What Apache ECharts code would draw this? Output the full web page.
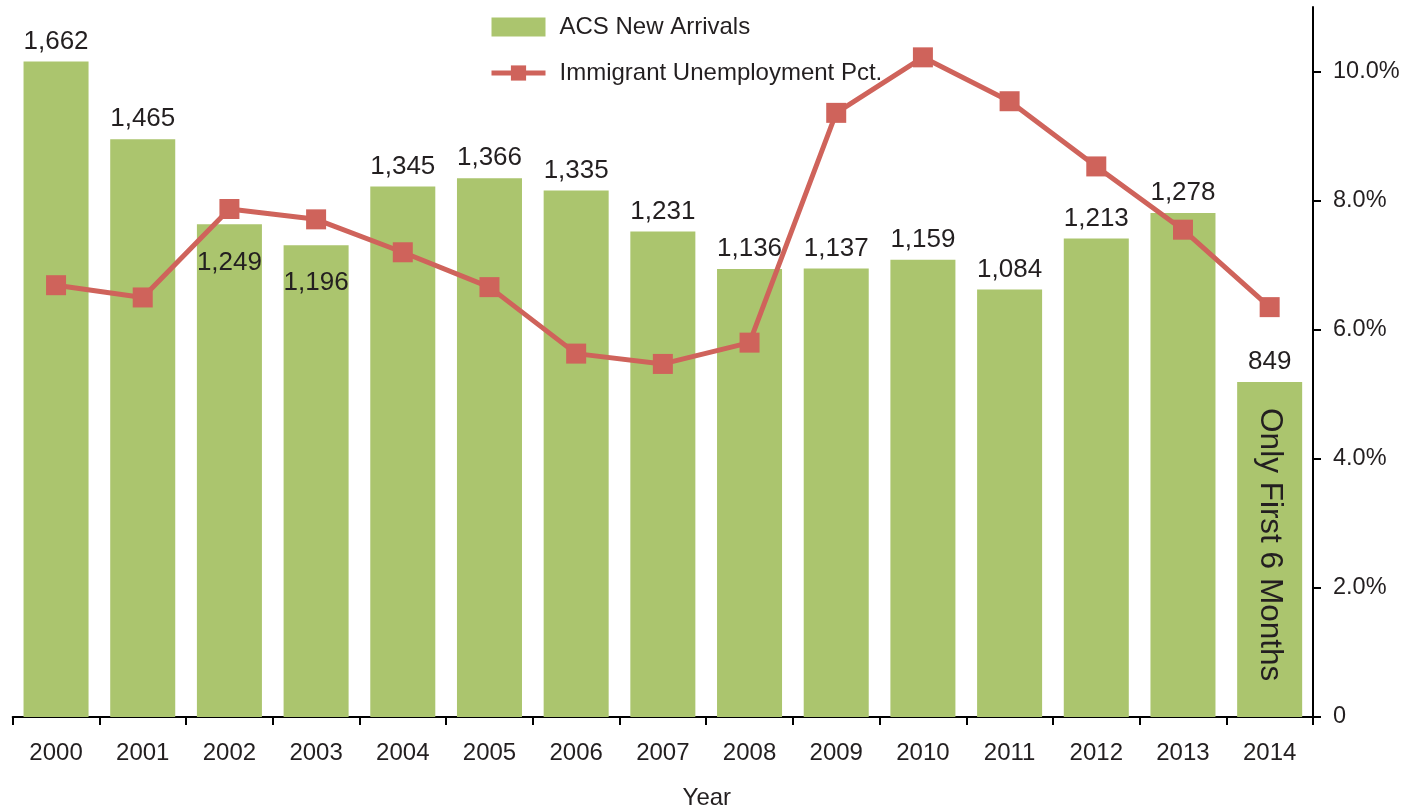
<!DOCTYPE html>
<html>
<head>
<meta charset="utf-8">
<script src="https://cdn.jsdelivr.net/npm/echarts@6/dist/echarts.min.js"></script>
<style>
  html, body { margin: 0; padding: 0; background: #fff; }
  #chart { width: 1416px; height: 807px; }
</style>
</head>
<body>
<div id="chart"></div>
<script>
const years = ['2000','2001','2002','2003','2004','2005','2006','2007','2008','2009','2010','2011','2012','2013','2014'];
const arrivals = [1662, 1465, 1249, 1196, 1345, 1366, 1335, 1231, 1136, 1137, 1159, 1084, 1213, 1278, 849];
const unemployment = [6.69, 6.50, 7.87, 7.71, 7.20, 6.66, 5.63, 5.47, 5.80, 9.36, 10.22, 9.54, 8.53, 7.55, 6.35];
const pctTicks = [0, 2, 4, 6, 8, 10];
const insideLabelYears = ['2002', '2003'];
const noteYear = '2014';
const noteText = 'Only First 6 Months';
const barName = 'ACS New Arrivals';
const lineName = 'Immigrant Unemployment Pct.';

const FONT = "'Liberation Sans', Arial, Helvetica, sans-serif";
const TXT = '#231F20';
const BAR = '#ABC56E';
const LINE = '#CF635B';

const chart = echarts.init(document.getElementById('chart'), null, { renderer: 'canvas' });

const barData = arrivals.map((v, i) => insideLabelYears.includes(years[i])
  ? { value: v, label: { position: 'insideTop', distance: 25 } }
  : v);
const noteData = arrivals.map((v, i) => years[i] === noteYear ? v : '-');

const option = {
  animation: false,
  textStyle: { fontFamily: FONT, color: TXT },
  grid: { left: 12.7, right: 103, top: 7, bottom: 90, containLabel: false, outerBoundsMode: 'none' },
  legend: {
    data: [
      { name: barName, icon: 'rect' },
      { name: lineName, lineStyle: { width: 5, color: LINE } }
    ],
    orient: 'vertical',
    left: 484,
    top: 10,
    itemWidth: 54,
    itemHeight: 19,
    itemGap: 22,
    textStyle: { fontSize: 24, color: TXT, fontFamily: FONT, padding: [0, 0, 0, 9] }
  },
  xAxis: {
    type: 'category',
    data: years,
    name: 'Year',
    nameLocation: 'middle',
    nameGap: 69,
    nameTextStyle: { fontSize: 24, color: TXT, fontFamily: FONT, padding: [0, 0, 0, 88] },
    axisLine: { lineStyle: { color: '#000', width: 2 } },
    axisTick: { show: true, length: 8, lineStyle: { color: '#000', width: 2 } },
    axisLabel: { fontSize: 24, color: TXT, margin: 24, fontFamily: FONT }
  },
  yAxis: [
    {
      type: 'value', min: 0, max: 1800, show: false, splitLine: { show: false }
    },
    {
      type: 'value', min: 0, max: 11, position: 'right',
      splitLine: { show: false },
      axisLine: { show: true, lineStyle: { color: '#000', width: 2 } },
      axisTick: { show: true, length: 8, customValues: pctTicks, lineStyle: { color: '#000', width: 2 } },
      axisLabel: {
        fontSize: 23.5, color: TXT, margin: 20, fontFamily: FONT,
        customValues: pctTicks,
        formatter: v => v === 0 ? '0' : v.toFixed(1) + '%'
      }
    }
  ],
  series: [
    {
      name: barName,
      type: 'bar',
      yAxisIndex: 0,
      data: barData,
      barCategoryGap: '25%',
      barGap: '-100%',
      itemStyle: { color: BAR },
      label: {
        show: true, position: 'top', distance: 7,
        fontSize: 26, color: TXT, fontFamily: FONT,
        formatter: p => Number(p.value).toLocaleString('en-US')
      },
      z: 2
    },
    {
      name: 'note',
      type: 'bar',
      yAxisIndex: 0,
      data: noteData,
      barCategoryGap: '25%',
      barGap: '-100%',
      itemStyle: { color: 'rgba(0,0,0,0)' },
      label: {
        show: true,
        position: ['50%', 26],
        rotate: -90,
        align: 'left',
        verticalAlign: 'middle',
        fontSize: 31.5, color: TXT, fontFamily: FONT,
        formatter: () => noteText
      },
      silent: true,
      z: 3
    },
    {
      name: lineName,
      type: 'line',
      yAxisIndex: 1,
      data: unemployment,
      symbol: 'rect',
      symbolSize: 20,
      lineStyle: { color: LINE, width: 5 },
      itemStyle: { color: LINE },
      z: 5
    }
  ]
};
chart.setOption(option);
</script>
</body>
</html>
